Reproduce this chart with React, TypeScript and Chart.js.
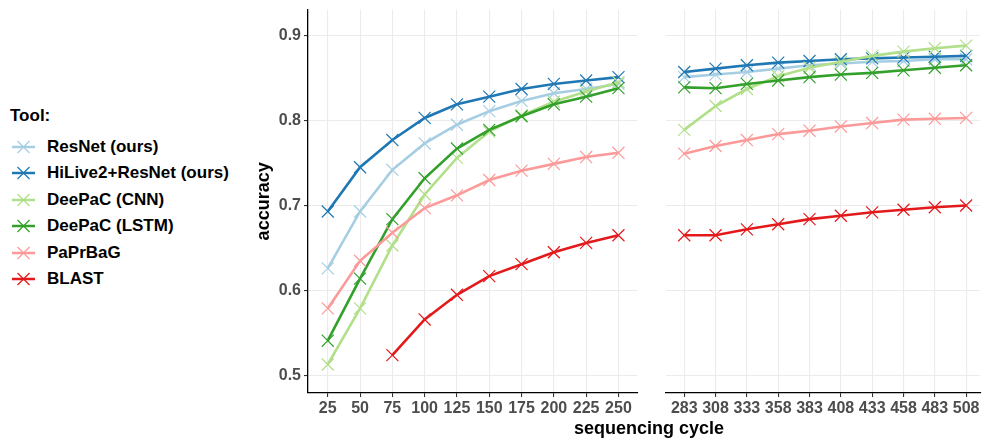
import React, { useEffect, useRef } from "react";
import { Chart, registerables } from "chart.js";

Chart.register(...registerables);

// Sequencing cycles shown in the two facets
const cyclesFirstRead = [25, 50, 75, 100, 125, 150, 175, 200, 225, 250];
const cyclesSecondRead = [283, 308, 333, 358, 383, 408, 433, 458, 483, 508];
const accuracyTicks = [0.5, 0.6, 0.7, 0.8, 0.9];

const toolNames = [
  "ResNet (ours)",
  "HiLive2+ResNet (ours)",
  "DeePaC (CNN)",
  "DeePaC (LSTM)",
  "PaPrBaG",
  "BLAST",
];
const toolColors = ["#A6CEE3", "#1F78B4", "#B2DF8A", "#33A02C", "#FB9A99", "#E31A1C"];

// Accuracy per tool, first read (cycles 25-250)
const resnetFirst = [0.626, 0.693, 0.742, 0.773, 0.795, 0.811, 0.823, 0.832, 0.837, 0.843];
const hiliveFirst = [0.693, 0.745, 0.777, 0.803, 0.819, 0.828, 0.837, 0.843, 0.847, 0.851];
const cnnFirst = [0.513, 0.579, 0.653, 0.713, 0.756, 0.787, 0.806, 0.822, 0.834, 0.845];
const lstmFirst = [0.541, 0.614, 0.684, 0.732, 0.767, 0.789, 0.805, 0.819, 0.828, 0.838];
const paprbagFirst = [0.579, 0.635, 0.668, 0.697, 0.712, 0.73, 0.741, 0.749, 0.757, 0.762];
const blastFirst = [null, null, 0.524, 0.566, 0.595, 0.617, 0.631, 0.645, 0.656, 0.665];

// Accuracy per tool, second read (cycles 283-508)
const resnetSecond = [0.851, 0.854, 0.857, 0.861, 0.865, 0.867, 0.869, 0.87, 0.872, 0.872];
const hiliveSecond = [0.857, 0.861, 0.865, 0.868, 0.87, 0.872, 0.873, 0.874, 0.875, 0.876];
const cnnSecond = [0.789, 0.817, 0.837, 0.852, 0.862, 0.869, 0.876, 0.881, 0.885, 0.888];
const lstmSecond = [0.839, 0.838, 0.843, 0.847, 0.851, 0.854, 0.856, 0.859, 0.862, 0.865];
const paprbagSecond = [0.761, 0.77, 0.777, 0.784, 0.788, 0.793, 0.797, 0.801, 0.802, 0.803];
const blastSecond = [0.665, 0.665, 0.672, 0.678, 0.684, 0.688, 0.692, 0.695, 0.698, 0.7];

const seriesFirst = [resnetFirst, hiliveFirst, cnnFirst, lstmFirst, paprbagFirst, blastFirst];
const seriesSecond = [resnetSecond, hiliveSecond, cnnSecond, lstmSecond, paprbagSecond, blastSecond];

const FONT = "'Liberation Sans', Arial, Helvetica, sans-serif";
const GRID = "#EBEBEB";
const TICK_MARK = "#333333";
const TICK_TEXT = "#4D4D4D";

type PanelProps = {
  left: number;
  width: number;
  height: number;
  cycles: number[];
  series: (number | null)[][];
  xMin: number;
  xMax: number;
  showY: boolean;
};

function zeroPadding(s: any) {
  s.paddingTop = 0;
  s.paddingBottom = 0;
  s.paddingLeft = 0;
  s.paddingRight = 0;
}

function Panel({ left, width, height, cycles, series, xMin, xMax, showY }: PanelProps) {
  const ref = useRef<HTMLCanvasElement | null>(null);

  useEffect(() => {
    if (!ref.current) return;
    const chart = new Chart(ref.current, {
      type: "line",
      data: {
        datasets: series.map((vals, i) => ({
          label: toolNames[i],
          data: cycles
            .map((c, j) => ({ x: c, y: vals[j] }))
            .filter((p) => p.y !== null) as { x: number; y: number }[],
          borderColor: toolColors[i],
          backgroundColor: toolColors[i],
          borderWidth: 2.6,
          pointStyle: "crossRot",
          pointRadius: 8.5,
          pointBorderWidth: 1.2,
          pointBorderColor: toolColors[i],
          pointBackgroundColor: toolColors[i],
          tension: 0,
          order: -i,
        })),
      },
      options: {
        responsive: false,
        animation: false,
        events: [],
        layout: { padding: { top: 7, left: 0, right: 0, bottom: 0 } },
        plugins: {
          legend: { display: false },
          tooltip: { enabled: false },
          title: { display: false },
        },
        scales: {
          x: {
            type: "linear",
            min: xMin,
            max: xMax,
            afterBuildTicks: (s: any) => {
              s.ticks = cycles.map((v) => ({ value: v }));
            },
            afterFit: (s: any) => {
              s.height = 27;
              zeroPadding(s);
            },
            grid: {
              color: GRID,
              lineWidth: 1.1,
              tickColor: TICK_MARK,
              tickLength: 4,
              drawTicks: true,
            },
            border: { display: true, color: "#000000", width: 1.3 },
            ticks: {
              color: TICK_TEXT,
              font: { family: FONT, size: 16, weight: "bold" },
              padding: 2,
              maxRotation: 0,
              autoSkip: false,
              callback: (v: any) => String(v),
            },
          },
          y: {
            type: "linear",
            min: 0.4795,
            max: 0.9303,
            afterBuildTicks: (s: any) => {
              s.ticks = accuracyTicks.map((v) => ({ value: v }));
            },
            afterFit: (s: any) => {
              s.width = showY ? 58 : 0;
              zeroPadding(s);
            },
            grid: {
              color: GRID,
              lineWidth: 1.1,
              tickColor: TICK_MARK,
              tickLength: 4,
              drawTicks: showY,
            },
            border: { display: showY, color: "#000000", width: 1.3 },
            ticks: {
              display: showY,
              color: TICK_TEXT,
              font: { family: FONT, size: 16, weight: "bold" },
              padding: 3,
              callback: (v: any) => Number(v).toFixed(1),
            },
            title: {
              display: showY,
              text: "accuracy",
              color: "#000000",
              font: { family: FONT, size: 18, weight: "bold" },
              padding: { top: 3, bottom: 0 },
            },
          },
        },
      },
    } as any);
    return () => chart.destroy();
  }, []);

  return (
    <div style={{ position: "absolute", left, top: 0, width, height }}>
      <canvas ref={ref} width={width} height={height} style={{ display: "block", width, height }} />
    </div>
  );
}

function LegendSymbol({ color }: { color: string }) {
  return (
    <svg width={30} height={20} style={{ position: "absolute", left: 8, top: -10 }}>
      <line x1={4} y1={10} x2={27} y2={10} stroke={color} strokeWidth={2.5} />
      <line x1={9.5} y1={4} x2={21.5} y2={16} stroke={color} strokeWidth={1.2} />
      <line x1={9.5} y1={16} x2={21.5} y2={4} stroke={color} strokeWidth={1.2} />
    </svg>
  );
}

const legendRowCenters = [146.5, 173, 199.5, 226, 252.5, 279];

export default function App() {
  return (
    <div
      style={{
        position: "fixed",
        left: 0,
        top: 0,
        width: 990,
        height: 441,
        background: "#ffffff",
        overflow: "hidden",
        fontFamily: FONT,
      }}
    >
      <div
        style={{
          position: "absolute",
          left: 10,
          top: 116 - 9.8,
          fontSize: 17,
          lineHeight: "20px",
          fontWeight: "bold",
          color: "#000",
          whiteSpace: "nowrap",
        }}
      >
        Tool:
      </div>
      {toolNames.map((name, i) => (
        <div key={name} style={{ position: "absolute", left: 0, top: legendRowCenters[i] }}>
          <LegendSymbol color={toolColors[i]} />
          <div
            style={{
              position: "absolute",
              left: 47,
              top: -9.8,
              fontSize: 17,
              lineHeight: "20px",
              fontWeight: "bold",
              color: "#000",
              whiteSpace: "nowrap",
            }}
          >
            {name}
          </div>
        </div>
      ))}

      <Panel
        left={250}
        width={397}
        height={420}
        cycles={cyclesFirstRead}
        series={seriesFirst}
        xMin={9.7}
        xMax={264.6}
        showY={true}
      />
      <Panel
        left={656}
        width={334}
        height={420}
        cycles={cyclesSecondRead}
        series={seriesSecond}
        xMin={268.2}
        xMax={519.3}
        showY={false}
      />

      <div
        style={{
          position: "absolute",
          left: 449,
          width: 400,
          top: 417,
          textAlign: "center",
          fontSize: 18,
          lineHeight: "22px",
          fontWeight: "bold",
          color: "#000",
          whiteSpace: "nowrap",
        }}
      >
        sequencing cycle
      </div>
    </div>
  );
}
